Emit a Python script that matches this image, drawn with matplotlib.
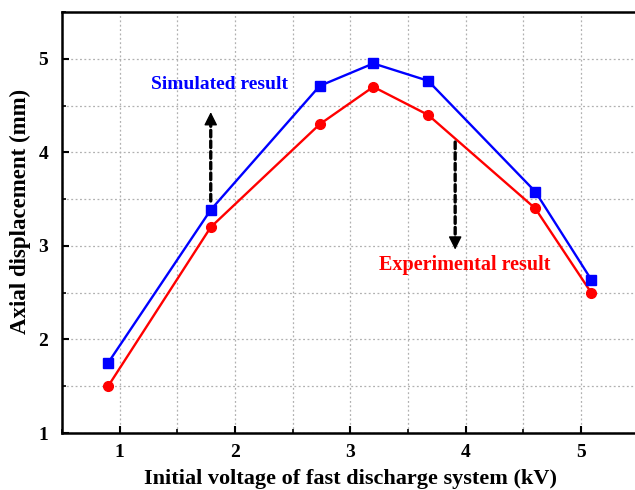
import matplotlib
matplotlib.use("Agg")
import matplotlib.pyplot as plt
from matplotlib.ticker import MultipleLocator

# Data
voltage = [0.9, 1.79, 2.735, 3.2, 3.675, 4.605, 5.09]
simulated = [1.75, 3.385, 4.71, 4.95, 4.765, 3.58, 2.64]
experimental = [1.5, 3.2, 4.30, 4.70, 4.40, 3.40, 2.50]

xlabel = "Initial voltage of fast discharge system (kV)"
ylabel = "Axial displacement (mm)"
sim_label = "Simulated result"
exp_label = "Experimental result"

# arrows: (x, start y, end y)
arrows = [(1.79, 3.48, 4.43), (3.91, 4.11, 2.96)]

plt.rcParams['font.family'] = ['Liberation Serif', 'DejaVu Serif']
plt.rcParams['font.weight'] = 'bold'

fig = plt.figure(figsize=(6.35, 4.9), dpi=100)
ax = fig.add_axes([62/635, 57/490, 576.5/635, 421/490])

ax.plot(voltage, experimental, color='#ff0000', lw=1.7, marker='o', ms=7, zorder=3)
ax.plot(voltage, simulated, color='#0000ff', lw=1.7, marker='s', ms=6.5, zorder=3)

ax.set_xlim(0.5, 5.5)
ax.set_ylim(1, 5.5)
ax.xaxis.set_major_locator(MultipleLocator(1))
ax.xaxis.set_minor_locator(MultipleLocator(0.5))
ax.yaxis.set_major_locator(MultipleLocator(1))
ax.yaxis.set_minor_locator(MultipleLocator(0.5))
ax.grid(True, which='both', linestyle=(0, (1.5, 2)), color='#b0b0b0', lw=0.9)
ax.set_axisbelow(True)
ax.tick_params(which='major', direction='in', length=5, width=1.5, labelsize=14)
ax.tick_params(axis='x', which='major', pad=8)
ax.tick_params(axis='y', which='major', pad=10)
ax.tick_params(which='minor', direction='in', length=3, width=1.2)
for s in ax.spines.values():
    s.set_linewidth(1.8)
for lab in ax.get_xticklabels() + ax.get_yticklabels():
    lab.set_fontweight('bold')

ax.set_xlabel(xlabel, fontsize=16, fontweight='bold', labelpad=6)
ax.set_ylabel(ylabel, fontsize=16.5, fontweight='bold')
ax.yaxis.set_label_coords(-0.053, 0.527)

ax.text(1.862, 4.72, sim_label, color='#0000ff', fontsize=14, fontweight='bold',
        ha='center', va='center')
ax.text(3.995, 2.80, exp_label, color='#ff0000', fontsize=14.5, fontweight='bold',
        ha='center', va='center')

shaft_props = dict(arrowstyle='-', linestyle=(0, (2, 1.2)), lw=2.4, color='black',
                   shrinkA=0, shrinkB=0)
head_props = dict(arrowstyle='-|>,head_length=0.8,head_width=0.4', lw=1.0, color='black',
                  shrinkA=0, shrinkB=0)
for x, y0, y1 in arrows:
    d = 0.1 if y1 > y0 else -0.1
    ax.annotate('', xy=(x, y1 - d), xytext=(x, y0), arrowprops=shaft_props)
    ax.annotate('', xy=(x, y1), xytext=(x, y1 - d), arrowprops=head_props)

fig.savefig('out.png', dpi=100)
